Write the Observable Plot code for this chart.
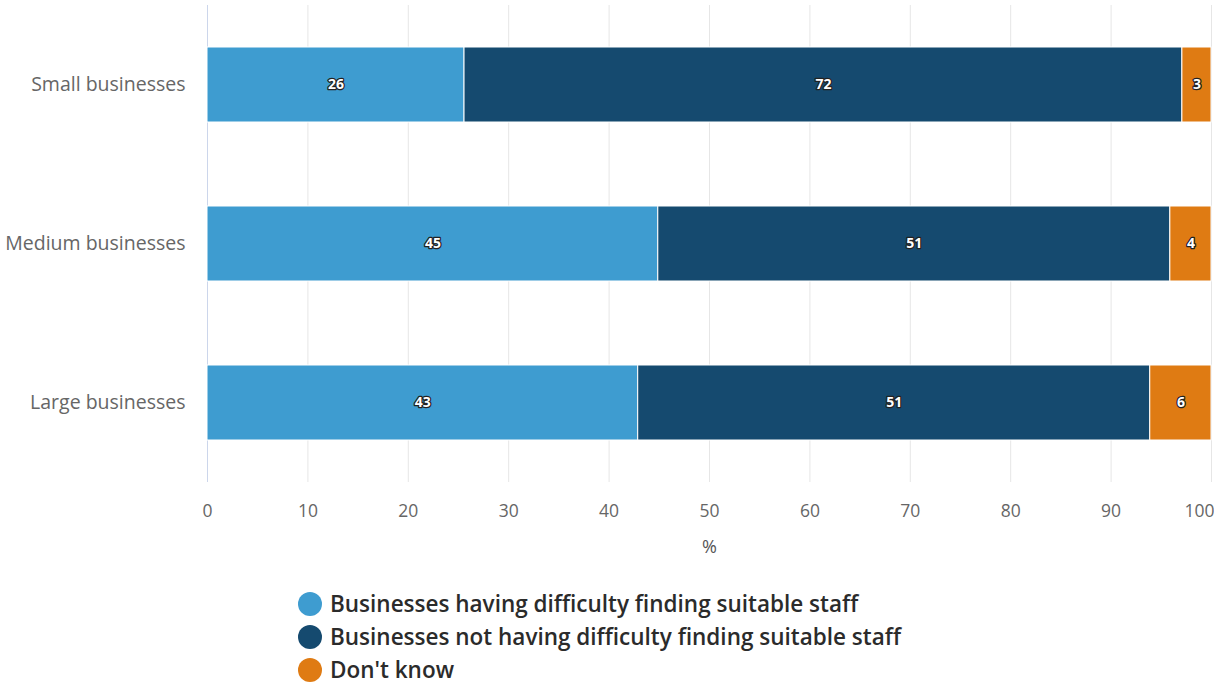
<!DOCTYPE html>
<html>
<head>
<meta charset="utf-8">
<script src="https://cdn.jsdelivr.net/npm/d3@7"></script>
<script src="https://cdn.jsdelivr.net/npm/@observablehq/plot@0.6"></script>
<style>
  body { margin: 0; background: #fff; font-family: "Open Sans", sans-serif; }
  #legend { margin-top: 27px; margin-left: 298px; }
  .item { display: flex; align-items: center; height: 33px; font-size: 22.5px; font-weight: 600; color: #2b2b2b; }
  .dot { width: 24px; height: 24px; border-radius: 50%; margin-right: 8px; flex: none; }
</style>
</head>
<body>
<div id="chart"></div>
<div id="legend"></div>
<script>
const categories = ["Small businesses", "Medium businesses", "Large businesses"];
const seriesNames = [
  "Businesses having difficulty finding suitable staff",
  "Businesses not having difficulty finding suitable staff",
  "Don't know"
];
const colors = ["#3e9cd0", "#154a6f", "#df7b13"];
const difficulty = [25.6, 44.9, 42.9];
const noDifficulty = [71.5, 51.0, 51.0];
const dontKnow = [2.9, 4.1, 6.1];
const xTicks = [0, 10, 20, 30, 40, 50, 60, 70, 80, 90, 100];

const series = [difficulty, noDifficulty, dontKnow];
const data = [];
series.forEach((vals, si) => {
  vals.forEach((v, ci) => data.push({cat: categories[ci], series: seriesNames[si], value: v}));
});

const font = '"Open Sans", sans-serif';
const chart = Plot.plot({
  width: 1214,
  height: 560,
  marginLeft: 207,
  marginRight: 3,
  marginTop: 5,
  marginBottom: 78,
  style: {fontFamily: font, background: "#fff"},
  x: {domain: [0, 100]},
  y: {domain: categories, paddingInner: 0.53, paddingOuter: 0.265},
  color: {domain: seriesNames, range: colors},
  marks: [
    Plot.ruleX(xTicks.slice(1), {stroke: "#e6e6e6", strokeWidth: 1}),
    Plot.ruleX([0], {stroke: "#ccd6eb", strokeWidth: 1}),
    Plot.axisX({ticks: xTicks.slice(0, -1), tickSize: 0, tickPadding: 22, fontSize: 17.5, fill: "#666",
      label: "%", labelAnchor: "center", labelArrow: "none", labelOffset: 70}),
    Plot.axisX({ticks: xTicks.slice(-1), tickSize: 0, tickPadding: 22, fontSize: 17.5, fill: "#666",
      textAnchor: "end", dx: 3, label: null}),
    Plot.axisY({tickSize: 0, tickPadding: 22, fontSize: 19.5, fill: "#666", label: null}),
    Plot.barX(data, Plot.stackX({x: "value", y: "cat", fill: "series", stroke: "#fff", strokeWidth: 1})),
    Plot.text(data, Plot.stackX({x: "value", y: "cat", text: d => String(Math.round(d.value)),
      fill: "#fff", stroke: "#222", strokeWidth: 2.5, fontWeight: "bold", fontSize: 14}))
  ]
});
chart.querySelectorAll("g[aria-label='x-axis label']").forEach(el => {
  el.setAttribute("font-size", "18"); el.setAttribute("fill", "#555");
});
document.getElementById("chart").appendChild(chart);

const legend = document.getElementById("legend");
seriesNames.forEach((name, i) => {
  const item = document.createElement("div");
  item.className = "item";
  const dot = document.createElement("span");
  dot.className = "dot";
  dot.style.background = colors[i];
  const label = document.createElement("span");
  label.textContent = name;
  item.appendChild(dot);
  item.appendChild(label);
  legend.appendChild(item);
});
</script>
</body>
</html>
